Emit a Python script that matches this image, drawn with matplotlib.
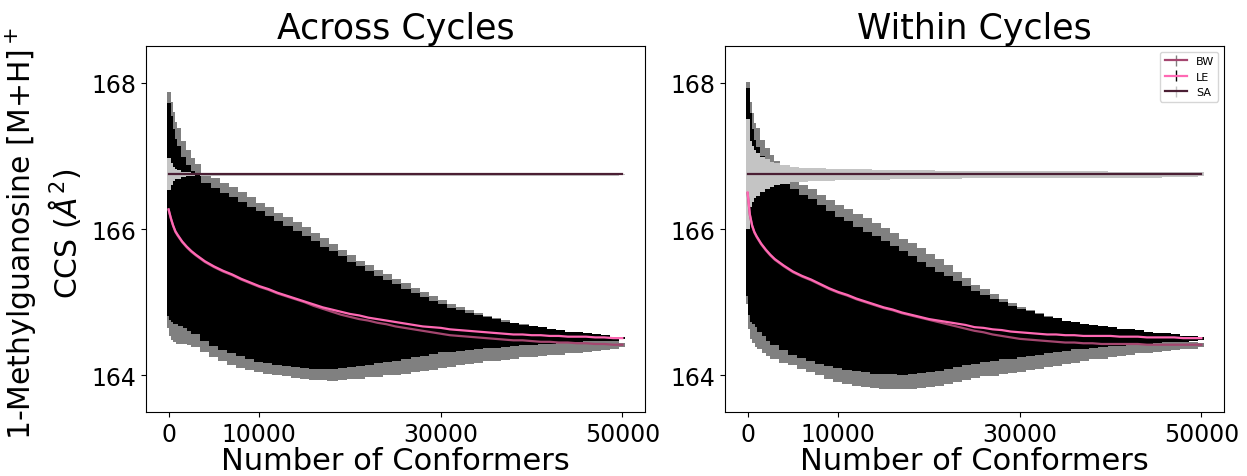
import matplotlib
matplotlib.use("Agg")
import matplotlib.pyplot as plt
import numpy as np

# ---------------- data ----------------
conformers = [0, 250, 500, 750, 1000, 1500, 2000, 2500,
              3000, 4000, 5000, 6000, 7000, 8000, 9000, 10000,
              11000, 12000, 13000, 14000, 15000, 16000, 17000, 18000, 19000, 20000,
              21000, 22000, 23000, 24000, 25000, 26000, 27000, 28000, 29000, 30000,
              31000, 32000, 33000, 34000, 35000, 36000, 37000, 38000, 39000, 40000,
              41000, 42000, 43000, 44000, 45000, 46000, 47000, 48000, 49000, 50000]

# ---- Across Cycles ----
across_bw_mean = [166.26, 166.14, 166.04, 165.96, 165.91, 165.82, 165.75, 165.69,
                  165.64, 165.55, 165.48, 165.42, 165.37, 165.31, 165.26, 165.21,
                  165.17, 165.12, 165.08, 165.04, 165.00, 164.95, 164.91, 164.87, 164.83, 164.80,
                  164.77, 164.75, 164.72, 164.70, 164.67, 164.65, 164.63, 164.61, 164.59, 164.57,
                  164.55, 164.54, 164.53, 164.52, 164.51, 164.50, 164.49, 164.48, 164.48, 164.47,
                  164.46, 164.46, 164.45, 164.45, 164.44, 164.44, 164.43, 164.43, 164.42, 164.42]
across_bw_err = [1.61, 1.60, 1.555, 1.505, 1.465, 1.385, 1.325, 1.28,
                 1.25, 1.22, 1.22, 1.215, 1.21, 1.195, 1.175, 1.15,
                 1.13, 1.105, 1.08, 1.055, 1.03, 1.00, 0.965, 0.93, 0.885, 0.84,
                 0.80, 0.76, 0.725, 0.685, 0.65, 0.61, 0.565, 0.53, 0.495, 0.455,
                 0.425, 0.39, 0.36, 0.335, 0.305, 0.285, 0.265, 0.24, 0.22, 0.205,
                 0.18, 0.165, 0.15, 0.13, 0.115, 0.10, 0.085, 0.07, 0.05, 0.03]
across_le_mean = [166.27, 166.15, 166.05, 165.97, 165.92, 165.83, 165.76, 165.70,
                  165.65, 165.56, 165.49, 165.43, 165.38, 165.32, 165.27, 165.22,
                  165.18, 165.13, 165.09, 165.05, 165.01, 164.97, 164.93, 164.90, 164.87, 164.84,
                  164.82, 164.79, 164.77, 164.75, 164.73, 164.71, 164.69, 164.67, 164.66, 164.65,
                  164.63, 164.62, 164.61, 164.60, 164.59, 164.58, 164.57, 164.56, 164.56, 164.55,
                  164.55, 164.54, 164.54, 164.53, 164.53, 164.53, 164.52, 164.52, 164.51, 164.51]
across_le_err = [1.455, 1.395, 1.32, 1.265, 1.21, 1.155, 1.11, 1.095,
                 1.085, 1.07, 1.07, 1.065, 1.06, 1.045, 1.03, 1.02,
                 1.00, 0.98, 0.95, 0.92, 0.895, 0.865, 0.83, 0.80, 0.76, 0.715,
                 0.675, 0.635, 0.59, 0.55, 0.515, 0.475, 0.43, 0.395, 0.355, 0.32,
                 0.295, 0.27, 0.245, 0.225, 0.205, 0.185, 0.165, 0.15, 0.135, 0.125,
                 0.11, 0.095, 0.085, 0.07, 0.06, 0.045, 0.04, 0.03, 0.02, 0.01]
across_sa_mean = [166.75] * 56
across_sa_err = [0.22, 0.15, 0.10, 0.07, 0.05, 0.035, 0.025, 0.02,
                 0.015, 0.012, 0.012, 0.012, 0.011, 0.011, 0.011, 0.010,
                 0.010, 0.010, 0.010, 0.010, 0.010, 0.009, 0.009, 0.009, 0.009, 0.009,
                 0.009, 0.009, 0.008, 0.008, 0.008, 0.008, 0.008, 0.008, 0.008, 0.008,
                 0.008, 0.008, 0.008, 0.008, 0.007, 0.007, 0.007, 0.007, 0.007, 0.007,
                 0.007, 0.007, 0.007, 0.007, 0.006, 0.006, 0.006, 0.006, 0.006, 0.006]

# ---- Within Cycles ----
within_bw_mean = [166.49, 166.19, 166.04, 165.95, 165.89, 165.79, 165.71, 165.64,
                  165.58, 165.49, 165.41, 165.35, 165.30, 165.24, 165.18, 165.13,
                  165.09, 165.04, 165.00, 164.96, 164.92, 164.89, 164.85, 164.82, 164.79, 164.76,
                  164.73, 164.70, 164.67, 164.64, 164.61, 164.59, 164.56, 164.54, 164.52, 164.50,
                  164.49, 164.48, 164.47, 164.46, 164.45, 164.45, 164.44, 164.44, 164.43, 164.43,
                  164.43, 164.43, 164.43, 164.42, 164.42, 164.42, 164.42, 164.42, 164.42, 164.42]
within_bw_err = [1.52, 1.55, 1.54, 1.50, 1.485, 1.43, 1.40, 1.37,
                 1.35, 1.31, 1.26, 1.25, 1.24, 1.225, 1.215, 1.205,
                 1.19, 1.17, 1.15, 1.12, 1.09, 1.055, 1.02, 0.985, 0.945, 0.90,
                 0.855, 0.805, 0.745, 0.69, 0.63, 0.59, 0.55, 0.51, 0.475, 0.435,
                 0.405, 0.375, 0.345, 0.315, 0.285, 0.26, 0.235, 0.205, 0.185, 0.16,
                 0.145, 0.13, 0.115, 0.10, 0.09, 0.075, 0.065, 0.05, 0.04, 0.03]
within_le_mean = [166.50, 166.20, 166.05, 165.96, 165.90, 165.80, 165.72, 165.65,
                  165.59, 165.50, 165.42, 165.36, 165.31, 165.25, 165.19, 165.14,
                  165.10, 165.05, 165.01, 164.97, 164.93, 164.90, 164.86, 164.83, 164.80, 164.77,
                  164.75, 164.73, 164.71, 164.69, 164.66, 164.65, 164.63, 164.62, 164.60, 164.59,
                  164.58, 164.57, 164.56, 164.56, 164.55, 164.55, 164.54, 164.54, 164.54, 164.54,
                  164.53, 164.53, 164.53, 164.52, 164.52, 164.52, 164.52, 164.51, 164.51, 164.51]
within_le_err = [1.42, 1.38, 1.315, 1.255, 1.225, 1.20, 1.185, 1.185,
                 1.175, 1.145, 1.125, 1.105, 1.095, 1.075, 1.05, 1.025,
                 1.005, 0.98, 0.955, 0.93, 0.90, 0.865, 0.835, 0.795, 0.755, 0.715,
                 0.67, 0.625, 0.58, 0.535, 0.49, 0.455, 0.42, 0.38, 0.355, 0.32,
                 0.295, 0.275, 0.245, 0.225, 0.20, 0.18, 0.165, 0.15, 0.135, 0.125,
                 0.11, 0.10, 0.09, 0.075, 0.065, 0.055, 0.045, 0.035, 0.025, 0.02]
within_sa_mean = [166.75] * 56
within_sa_err = [0.75, 0.45, 0.38, 0.33, 0.29, 0.24, 0.20, 0.17,
                 0.15, 0.12, 0.10, 0.09, 0.085, 0.08, 0.075, 0.07,
                 0.068, 0.066, 0.064, 0.062, 0.06, 0.058, 0.056, 0.054, 0.052, 0.05,
                 0.049, 0.048, 0.047, 0.046, 0.045, 0.044, 0.043, 0.042, 0.041, 0.04,
                 0.04, 0.039, 0.039, 0.038, 0.038, 0.037, 0.037, 0.036, 0.036, 0.035,
                 0.035, 0.034, 0.034, 0.033, 0.033, 0.032, 0.032, 0.031, 0.031, 0.03]

series_labels = ["BW", "LE", "SA"]
titles = ["Across Cycles", "Within Cycles"]
x_ticks = [0, 10000, 30000, 50000]
y_ticks = [164, 166, 168]

# ---------------- style ----------------
line_colors = ["#a4466f", "#ff69b4", "#4b1f34"]
err_colors = ["#808080", "#000000", "#c4c4c4"]

fig, axes = plt.subplots(1, 2, figsize=(12.47, 4.77), dpi=100, sharey=True)
fig.subplots_adjust(left=0.117, right=0.9816, bottom=0.134, top=0.9015, wspace=0.16)

panels = [
    [(across_bw_mean, across_bw_err), (across_le_mean, across_le_err), (across_sa_mean, across_sa_err)],
    [(within_bw_mean, within_bw_err), (within_le_mean, within_le_err), (within_sa_mean, within_sa_err)],
]

x = np.array(conformers, dtype=float)
containers_all = []
for ax, title, panel in zip(axes, titles, panels):
    conts = []
    for (m, e), lab, lc, ec in zip(panel, series_labels, line_colors, err_colors):
        c = ax.errorbar(x, m, yerr=e, color=lc, ecolor=ec, lw=1.6,
                        elinewidth=1.0, label=lab)
        conts.append(c)
    containers_all.append(conts)
    ax.set_title(title, fontsize=25)
    ax.set_xlabel("Number of Conformers", fontsize=22, labelpad=0)
    ax.set_xticks(x_ticks)
    ax.set_yticks(y_ticks)
    ax.tick_params(axis="both", labelsize=17)
    ax.set_xlim(-2500, 52500)
    ax.set_ylim(163.5, 168.5)
    ax.yaxis.set_tick_params(labelleft=True)

axes[0].set_ylabel("1-Methylguanosine [M+H]$^+$\nCCS ($\\AA^2$)", fontsize=21.5)
axes[0].yaxis.set_label_coords(-0.127, 0.49)
axes[1].legend(loc="upper right", fontsize=8)

# widen the error bars so that neighbouring bars join into a band
for ax, conts in zip(axes, containers_all):
    bb = ax.get_window_extent()
    xl = ax.get_xlim()
    px_per_unit = bb.width / (xl[1] - xl[0])
    spacing = np.gradient(x)
    spacing[-1] = spacing[-1] * 0.3
    widths_pt = (spacing * px_per_unit + 1.6) * 72.0 / fig.dpi
    for c in conts:
        for coll in c.lines[2]:
            coll.set_linewidths(widths_pt)
            coll.set_capstyle("butt")
            coll.set_antialiased(False)

fig.savefig("out.png", dpi=100)
